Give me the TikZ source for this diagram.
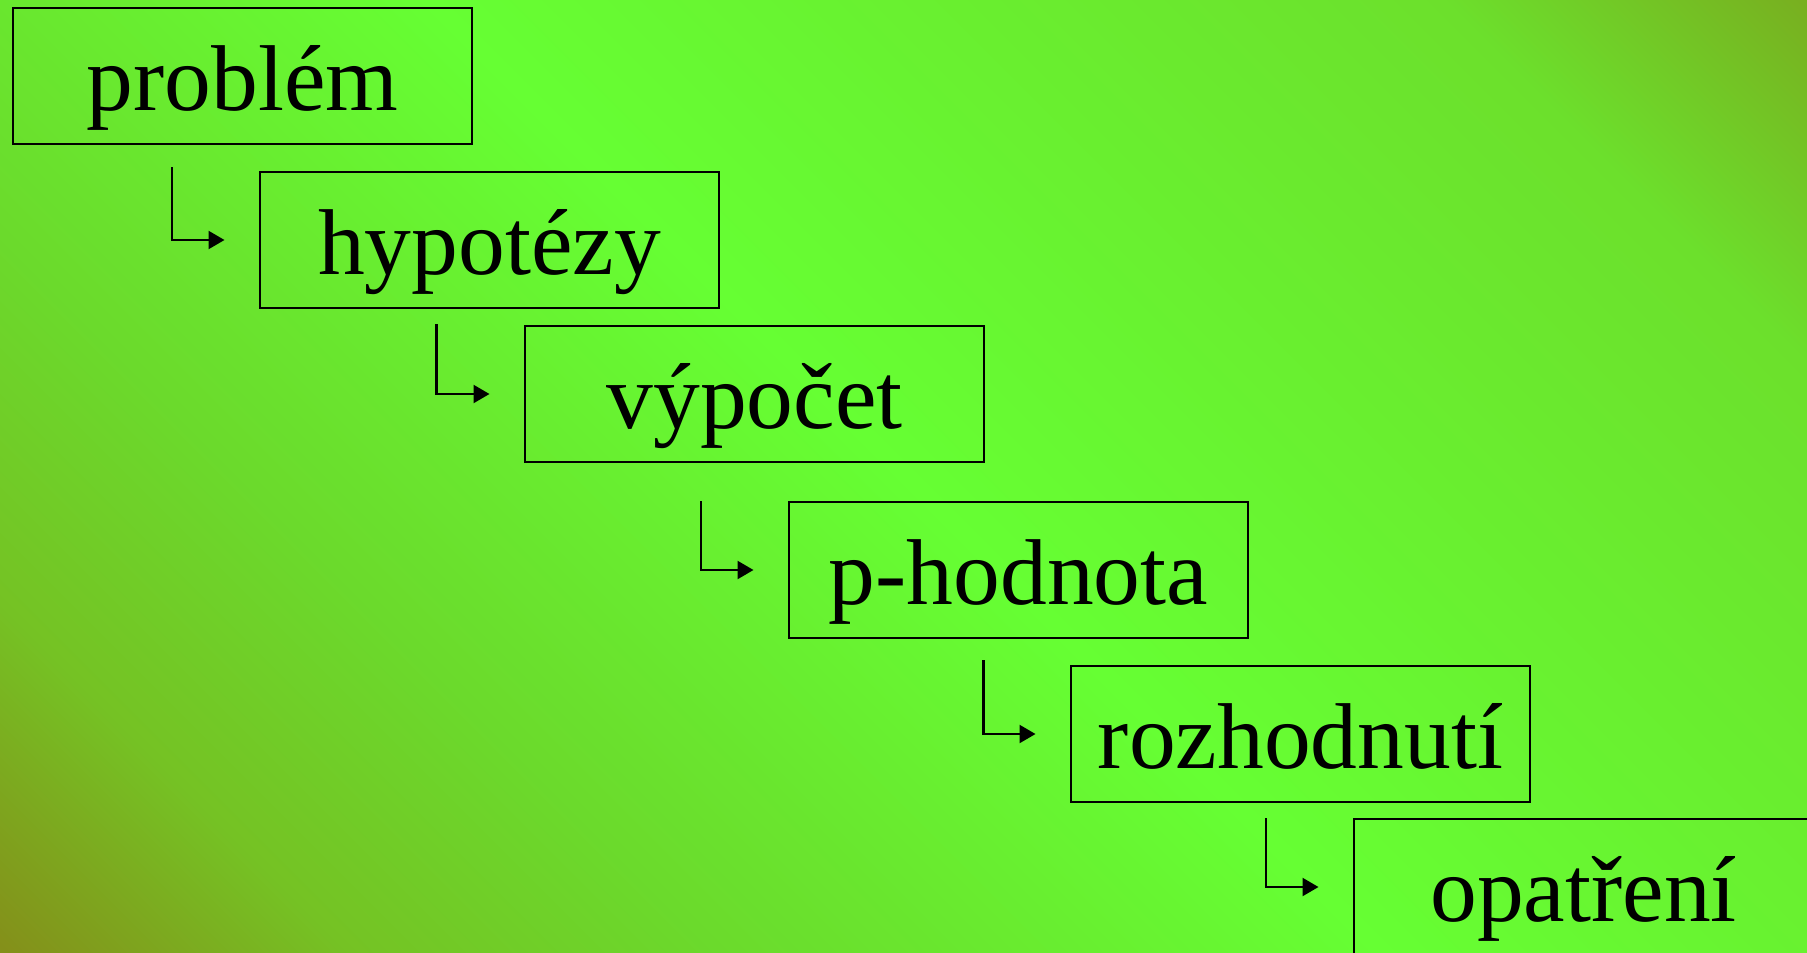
\documentclass[tikz,border=0pt]{standalone}
\usepackage{fontspec}
\setmainfont{Liberation Serif}
\usetikzlibrary{arrows.meta}
\definecolor{oliveA}{HTML}{84901A}
\definecolor{cB}{HTML}{75C224}
\definecolor{cC}{HTML}{6BDA2C}
\definecolor{brightG}{HTML}{66FF33}
\definecolor{cE}{HTML}{6CE02C}
\definecolor{oliveB}{HTML}{78B020}
\pgfdeclarehorizontalshading{bgshade}{100bp}{color(0bp)=(oliveA); color(14.64bp)=(oliveA); color(23.48bp)=(cB); color(33.03bp)=(cC); color(50bp)=(brightG); color(76.17bp)=(cE); color(85.36bp)=(oliveB); color(100bp)=(oliveB)}
\tikzset{
  stagebox/.style={draw=black, line width=2.3pt, minimum width=459pt, minimum height=136pt,
    inner sep=0pt, outer sep=0pt, anchor=north west, text height=69pt, text depth=0pt,
    font=\fontsize{93.5}{100}\selectfont},
  flowarrow/.style={draw=black, line width=2.3pt, -{Triangle[length=16pt,width=18pt]}, shorten >=35.5pt}
}
\begin{document}
\begin{tikzpicture}[x=1pt,y=-1pt]
\useasboundingbox (0,0) rectangle (1807,953);
\clip (0,0) rectangle (1807,953);
\path[shading=bgshade, shading angle=45] (0,0) rectangle (1807,953);
\node[stagebox] (b1) at (13,8) {problém};
\node[stagebox] (b2) at (260,172) {hypotézy};
\node[stagebox] (b3) at (525,326) {výpočet};
\node[stagebox] (b4) at (789,502) {p-hodnota};
\node[stagebox] (b5) at (1071,666) {rozhodnutí};
\node[stagebox] (b6) at (1354,819) {opatření};
\coordinate (a1) at (172,167);
\coordinate (a2) at (436.5,324);
\coordinate (a3) at (701,501);
\coordinate (a4) at (983.5,660);
\coordinate (a5) at (1266,818);
\draw[flowarrow] (a1) |- (b2.west);
\draw[flowarrow] (a2) |- (b3.west);
\draw[flowarrow] (a3) |- (b4.west);
\draw[flowarrow] (a4) |- (b5.west);
\draw[flowarrow] (a5) |- (b6.west);
\end{tikzpicture}
\end{document}
